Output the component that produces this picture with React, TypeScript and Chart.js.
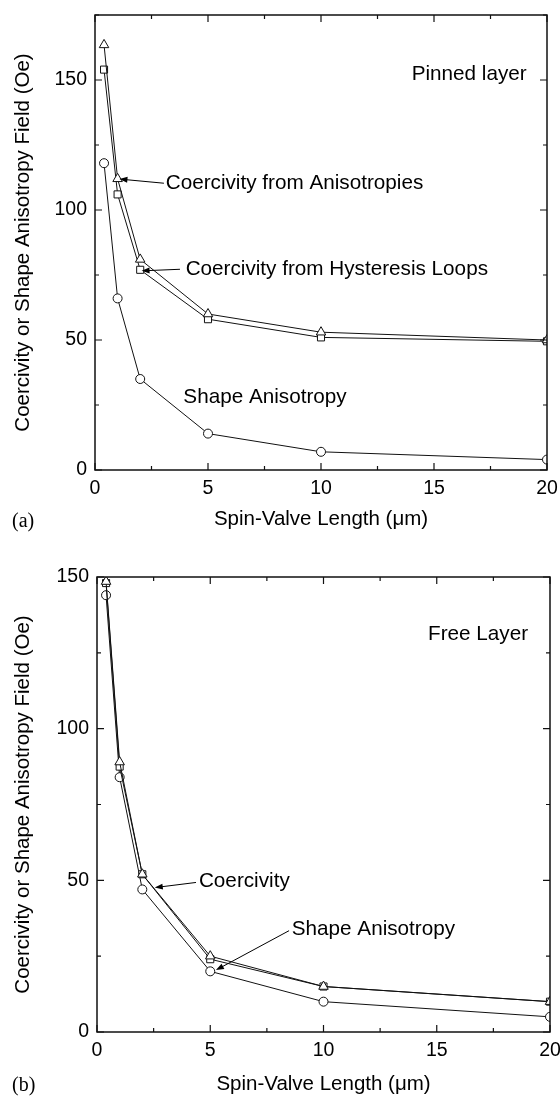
import React, { useEffect, useRef } from 'react';
import { Chart, registerables } from 'chart.js';

Chart.register(...registerables);

// ---------- data ----------
const lengths = [0.4, 1, 2, 5, 10, 20];

const pinnedAnisotropyCoercivity = [163.5, 112, 81, 60, 53, 50];
const pinnedLoopCoercivity = [154, 106, 77, 58, 51, 49.5];
const pinnedShapeAnisotropy = [118, 66, 35, 14, 7, 4];

const freeAnisotropyCoercivity = [148.5, 89, 52, 25, 15, 10];
const freeLoopCoercivity = [148, 87.5, 52, 24, 15, 10];
const freeShapeAnisotropy = [144, 84, 47, 20, 10, 5];

const xTickValues = [0, 5, 10, 15, 20];
const yTickValues = [0, 50, 100, 150];

const xTitle = 'Spin-Valve Length (\u03bcm)';
const yTitle = 'Coercivity or Shape Anisotropy Field (Oe)';

type Note = {
  text: string;
  x: number;
  y: number;
  align: CanvasTextAlign;
  arrow?: [number, number, number, number];
};

const pinnedNotes: Note[] = [
  { text: 'Pinned layer', x: 19.1, y: 152.3, align: 'right' },
  { text: 'Coercivity from Anisotropies', x: 3.13, y: 110.3, align: 'left', arrow: [3.05, 110.3, 1.08, 111.9] },
  { text: 'Coercivity from Hysteresis Loops', x: 4.01, y: 77.2, align: 'left', arrow: [3.76, 77.2, 2.06, 76.6] },
  { text: 'Shape Anisotropy', x: 3.91, y: 28.0, align: 'left' },
];

const freeNotes: Note[] = [
  { text: 'Free Layer', x: 19.03, y: 131.2, align: 'right' },
  { text: 'Coercivity', x: 4.5, y: 49.6, align: 'left', arrow: [4.37, 49.3, 2.55, 47.6] },
  { text: 'Shape Anisotropy', x: 8.6, y: 33.7, align: 'left', arrow: [8.48, 33.4, 5.25, 20.4] },
];

const SANS = '"Liberation Sans", Arial, Helvetica, sans-serif';
const SERIF = '"Liberation Serif", "Times New Roman", serif';

type Panel = {
  height: number;
  yMax: number;
  padTop: number;
  padRight: number;
  yAxisWidth: number;
  xAxisHeight: number;
  xTitlePadBottom: number;
  series: number[][];
  notes: Note[];
  label: string;
  labelY: number;
};

const panels: Panel[] = [
  {
    height: 540,
    yMax: 175,
    padTop: 15,
    padRight: 13,
    yAxisWidth: 95,
    xAxisHeight: 70,
    xTitlePadBottom: 8,
    series: [pinnedAnisotropyCoercivity, pinnedLoopCoercivity, pinnedShapeAnisotropy],
    notes: pinnedNotes,
    label: '(a)',
    labelY: 522,
  },
  {
    height: 557,
    yMax: 150,
    padTop: 37,
    padRight: 10,
    yAxisWidth: 97,
    xAxisHeight: 65,
    xTitlePadBottom: 0,
    series: [freeAnisotropyCoercivity, freeLoopCoercivity, freeShapeAnisotropy],
    notes: freeNotes,
    label: '(b)',
    labelY: 546,
  },
];

function makeDecorPlugin(panel: Panel) {
  return {
    id: 'decor',
    afterDatasetsDraw(chart: any) {
      const { ctx, chartArea } = chart;
      const { left, right, top, bottom } = chartArea;
      const xs = chart.scales.x;
      const ys = chart.scales.y;
      ctx.save();
      // frame
      ctx.strokeStyle = '#111';
      ctx.lineWidth = 1.5;
      ctx.strokeRect(left, top, right - left, bottom - top);
      // ticks (inward, on all sides)
      ctx.lineWidth = 1.2;
      ctx.beginPath();
      for (let v = 0; v <= 20 + 1e-9; v += 2.5) {
        const px = xs.getPixelForValue(v);
        const len = Math.abs(v % 5) < 1e-9 ? 7 : 4;
        ctx.moveTo(px, bottom);
        ctx.lineTo(px, bottom - len);
        ctx.moveTo(px, top);
        ctx.lineTo(px, top + len);
      }
      for (let v = 0; v <= panel.yMax + 1e-9; v += 25) {
        const py = ys.getPixelForValue(v);
        const len = Math.abs(v % 50) < 1e-9 ? 7 : 4;
        ctx.moveTo(left, py);
        ctx.lineTo(left + len, py);
        ctx.moveTo(right, py);
        ctx.lineTo(right - len, py);
      }
      ctx.stroke();

      // notes and arrows
      ctx.fillStyle = '#000';
      ctx.strokeStyle = '#000';
      ctx.font = `20.7px ${SANS}`;
      ctx.textBaseline = 'middle';
      for (const n of panel.notes) {
        ctx.textAlign = n.align;
        ctx.fillText(n.text, xs.getPixelForValue(n.x), ys.getPixelForValue(n.y));
        if (n.arrow) {
          const x1 = xs.getPixelForValue(n.arrow[0]);
          const y1 = ys.getPixelForValue(n.arrow[1]);
          const x2 = xs.getPixelForValue(n.arrow[2]);
          const y2 = ys.getPixelForValue(n.arrow[3]);
          const ang = Math.atan2(y2 - y1, x2 - x1);
          const headLen = 8;
          const headW = 3;
          ctx.lineWidth = 1;
          ctx.beginPath();
          ctx.moveTo(x1, y1);
          ctx.lineTo(x2 - Math.cos(ang) * headLen * 0.8, y2 - Math.sin(ang) * headLen * 0.8);
          ctx.stroke();
          ctx.beginPath();
          ctx.moveTo(x2, y2);
          ctx.lineTo(
            x2 - Math.cos(ang) * headLen - Math.sin(ang) * headW,
            y2 - Math.sin(ang) * headLen + Math.cos(ang) * headW
          );
          ctx.lineTo(
            x2 - Math.cos(ang) * headLen + Math.sin(ang) * headW,
            y2 - Math.sin(ang) * headLen - Math.cos(ang) * headW
          );
          ctx.closePath();
          ctx.fill();
        }
      }
      // panel label
      ctx.font = `20px ${SERIF}`;
      ctx.textAlign = 'left';
      ctx.fillText(panel.label, 12, panel.labelY);
      ctx.restore();
    },
  };
}

function buildConfig(panel: Panel): any {
  const styles = [
    { pointStyle: 'triangle', pointRadius: 5.5 },
    { pointStyle: 'rect', pointRadius: 5 },
    { pointStyle: 'circle', pointRadius: 4.5 },
  ];
  return {
    type: 'line',
    data: {
      datasets: panel.series.map((vals, i) => ({
        data: lengths.map((x, j) => ({ x, y: vals[j] })),
        borderColor: '#111',
        borderWidth: 1,
        backgroundColor: '#fff',
        pointBackgroundColor: '#fff',
        pointBorderColor: '#111',
        pointBorderWidth: 1,
        pointStyle: styles[i].pointStyle,
        pointRadius: styles[i].pointRadius,
        tension: 0,
        fill: false,
      })),
    },
    options: {
      animation: false,
      responsive: false,
      devicePixelRatio: 1,
      layout: { padding: { top: panel.padTop, right: panel.padRight, left: 0, bottom: 0 } },
      plugins: { legend: { display: false }, tooltip: { enabled: false } },
      scales: {
        x: {
          type: 'linear',
          min: 0,
          max: 20,
          grid: { display: false, drawTicks: false },
          border: { display: false },
          ticks: {
            stepSize: 5,
            color: '#000',
            font: { family: SANS, size: 19.5 },
            padding: 7,
            maxRotation: 0,
          },
          afterBuildTicks: (s: any) => {
            s.ticks = xTickValues.map((v) => ({ value: v }));
          },
          afterFit: (s: any) => {
            s.height = panel.xAxisHeight;
            s.paddingLeft = 0;
            s.paddingRight = 0;
          },
          title: {
            display: true,
            text: xTitle,
            color: '#000',
            font: { family: SANS, size: 20.5 },
            padding: { top: 0, bottom: panel.xTitlePadBottom },
          },
        },
        y: {
          type: 'linear',
          min: 0,
          max: panel.yMax,
          grid: { display: false, drawTicks: false },
          border: { display: false },
          ticks: {
            stepSize: 50,
            color: '#000',
            font: { family: SANS, size: 19.5 },
            padding: 8,
          },
          afterBuildTicks: (s: any) => {
            s.ticks = yTickValues.filter((v) => v <= panel.yMax).map((v) => ({ value: v }));
          },
          afterFit: (s: any) => {
            s.width = panel.yAxisWidth;
            s.paddingTop = 0;
            s.paddingBottom = 0;
          },
          title: {
            display: true,
            text: yTitle,
            color: '#000',
            font: { family: SANS, size: 20.5 },
            padding: { top: 11, bottom: 0 },
          },
        },
      },
    },
    plugins: [makeDecorPlugin(panel)],
  };
}

function PanelChart({ panel }: { panel: Panel }) {
  const ref = useRef<HTMLCanvasElement | null>(null);
  useEffect(() => {
    if (!ref.current) return;
    const chart = new Chart(ref.current, buildConfig(panel));
    return () => chart.destroy();
  }, [panel]);
  return (
    <canvas
      ref={ref}
      width={560}
      height={panel.height}
      style={{ display: 'block', width: 560, height: panel.height }}
    />
  );
}

export default function App() {
  return (
    <div style={{ position: 'absolute', left: 0, top: 0, width: 560, background: '#fff' }}>
      {panels.map((p, i) => (
        <PanelChart key={i} panel={p} />
      ))}
    </div>
  );
}
